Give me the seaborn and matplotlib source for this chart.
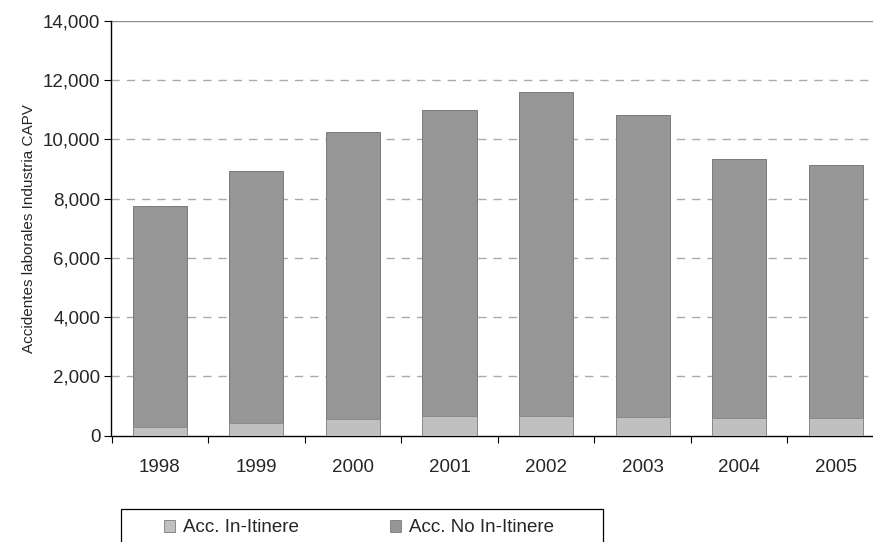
import matplotlib
matplotlib.use("Agg")
import matplotlib.pyplot as plt
from matplotlib.patches import Rectangle
from matplotlib.ticker import FuncFormatter, FixedLocator
import numpy as np
import pandas as pd
import seaborn as sns

# Accidentes laborales en la industria de la CAPV
years = ["1998", "1999", "2000", "2001", "2002", "2003", "2004", "2005"]
in_itinere = [290, 430, 550, 675, 675, 640, 585, 585]
no_in_itinere = [7460, 8515, 9690, 10320, 10920, 10175, 8765, 8550]
series_names = ["Acc. In-Itinere", "Acc. No In-Itinere"]
y_ticks = [0, 2000, 4000, 6000, 8000, 10000, 12000, 14000]

light_grey = "#C0C0C0"
dark_grey = "#969696"

sns.set_theme(style="white")
plt.rcParams["font.family"] = ["Liberation Sans", "DejaVu Sans"]

df = pd.DataFrame({
    "year": years,
    "in": in_itinere,
    "no": no_in_itinere,
})
df["total"] = df["in"] + df["no"]

W, H = 873, 542
fig = plt.figure(figsize=(W / 100, H / 100), dpi=100)
ax = fig.add_axes([111.5 / W, 1 - 435.7 / H, (884 - 111.5) / W, (435.7 - 20.7) / H])

# stacked bars: full height in dark grey, lower segment overlaid in light grey
sns.barplot(data=df, x="year", y="total", color=dark_grey, saturation=1,
            width=0.56, edgecolor="#7a7a7a", linewidth=0.7, ax=ax, zorder=3)
sns.barplot(data=df, x="year", y="in", color=light_grey, saturation=1,
            width=0.56, edgecolor="#8a8a8a", linewidth=0.7, ax=ax, zorder=4)

ax.set_xlim(-0.5, len(years) - 0.5)
ax.set_ylim(0, 14000)

for g in y_ticks[1:-1]:
    ax.axhline(g, color="#ababab", linewidth=1.0, linestyle=(0, (6, 5)), zorder=1)
ax.axhline(y_ticks[-1], color="#8c8c8c", linewidth=1.0, zorder=1)

ax.yaxis.set_major_locator(FixedLocator(y_ticks))
ax.yaxis.set_major_formatter(FuncFormatter(lambda v, p: f"{int(v):,}"))
ax.tick_params(axis="y", which="major", direction="out", length=5, width=0.8,
               color="black", labelsize=13.5, pad=3, left=True)

# category boundaries carry the tick marks, labels sit at the centres
ax.xaxis.set_major_locator(FixedLocator(np.arange(-0.5, len(years), 1.0)))
ax.xaxis.set_minor_locator(FixedLocator(np.arange(len(years))))
ax.set_xticklabels([], minor=False)
ax.set_xticklabels(years, minor=True)
ax.tick_params(axis="x", which="major", direction="out", length=5, width=0.8,
               color="black", bottom=True)
ax.tick_params(axis="x", which="minor", length=0, labelsize=13.5, pad=17)

ax.set_xlabel("")
ax.set_ylabel("Accidentes laborales Industria CAPV", fontsize=11, labelpad=5)

for side in ["top", "right"]:
    ax.spines[side].set_visible(False)
for side in ["left", "bottom"]:
    ax.spines[side].set_color("black")
    ax.spines[side].set_linewidth(1.0)

# legend frame drawn separately; its lower edge runs past the canvas
fig.patches.append(Rectangle((120.7 / W, -0.05), (603 - 120.7) / W, (H - 509.3) / H + 0.05,
                             transform=fig.transFigure, facecolor="none",
                             edgecolor="black", linewidth=0.9))
handles = [
    Rectangle((0, 0), 1, 1, facecolor=light_grey, edgecolor="#7a7a7a", linewidth=0.6),
    Rectangle((0, 0), 1, 1, facecolor=dark_grey, edgecolor="#7a7a7a", linewidth=0.6),
]
fig.legend(handles, series_names, loc="center left",
           bbox_to_anchor=(164 / W, 1 - 528 / H),
           ncol=2, fontsize=13.5, frameon=False,
           handlelength=0.6, handleheight=0.6, handletextpad=0.43,
           columnspacing=4.85, borderpad=0.0, borderaxespad=0.0)

fig.savefig("out.png", dpi=100)
